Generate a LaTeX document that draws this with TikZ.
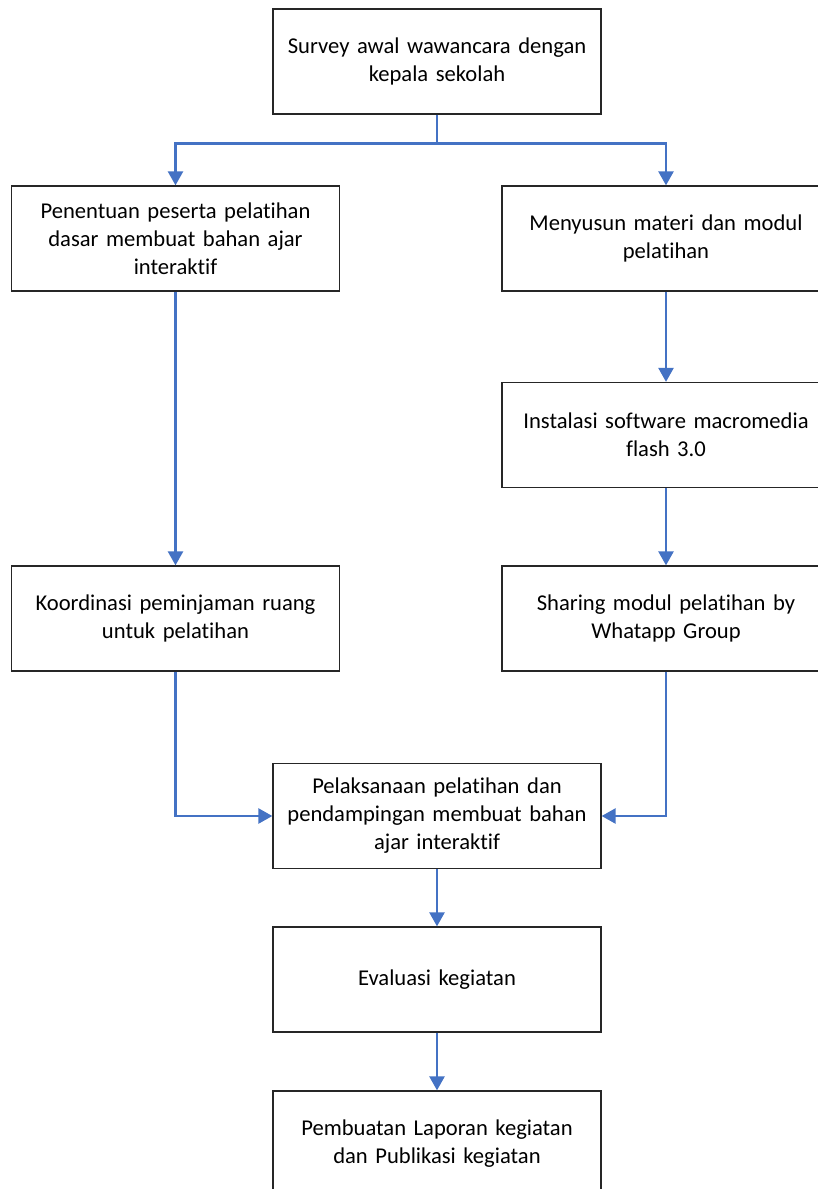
\documentclass[tikz,border=0pt]{standalone}
\usepackage{fontspec}
\setmainfont[RawFeature=-liga]{Carlito}
\usetikzlibrary{arrows.meta}
\definecolor{flowblue}{RGB}{68,114,196}
\definecolor{boxline}{RGB}{38,38,38}
\begin{document}
\begin{tikzpicture}[x=1pt,y=-1pt,
  box/.style={draw=boxline,line width=1.3pt,minimum width=328pt,minimum height=105pt,
    text width=318pt,align=center,inner sep=0pt,font=\fontsize{22.6}{28}\selectfont,fill=white},
  conn/.style={draw=flowblue,line width=2.5pt},
  arr/.style={conn,-{Triangle[width=15pt,length=14pt]}}]
\useasboundingbox (0,0) rectangle (818,1189);
\clip (0,0) rectangle (818,1189);
\fill[white] (0,0) rectangle (818,1189);
\node[box] (b1) at (437,61.5) {Survey awal wawancara dengan\\kepala sekolah};
\node[box] (b2) at (175.5,238.5) {Penentuan peserta pelatihan\\dasar membuat bahan ajar\\interaktif};
\node[box] (b3) at (666,238.5) {Menyusun materi dan modul\\pelatihan};
\node[box] (b4) at (666,435) {Instalasi software macromedia\\flash 3.0};
\node[box] (b5) at (175.5,618.5) {Koordinasi peminjaman ruang\\untuk pelatihan};
\node[box] (b6) at (666,618.5) {Sharing modul pelatihan by\\Whatapp Group};
\node[box] (b7) at (437,816) {Pelaksanaan pelatihan dan\\pendampingan membuat bahan\\ajar interaktif};
\node[box] (b8) at (437,979.5) {Evaluasi kegiatan};
\node[box] (b9) at (437,1143.5) {Pembuatan Laporan kegiatan\\dan Publikasi kegiatan};
\draw[conn] (b1.south) -- ++(0,29) coordinate (split);
\draw[arr] (split) -| (b2.north);
\draw[arr] (split) -| (b3.north);
\draw[arr] (b2) -- (b5);
\draw[arr] (b3) -- (b4);
\draw[arr] (b4) -- (b6);
\draw[arr] (b5.south) |- (b7.west);
\draw[arr] (b6.south) |- (b7.east);
\draw[arr] (b7) -- (b8);
\draw[arr] (b8) -- (b9);
\end{tikzpicture}
\end{document}
